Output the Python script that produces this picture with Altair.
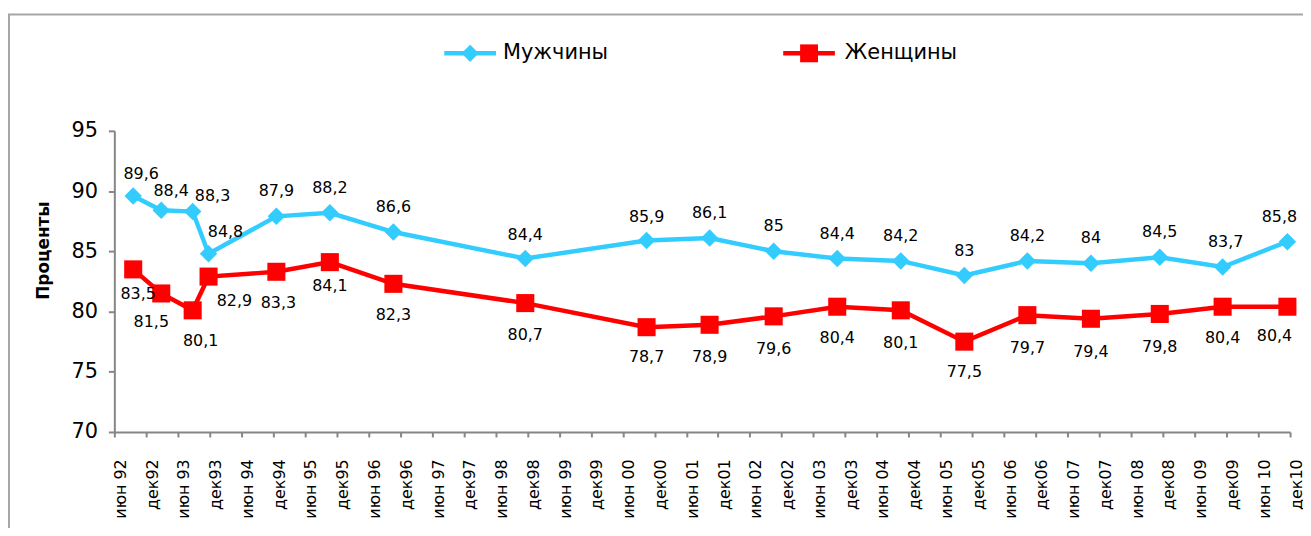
import json
import altair as alt
import pandas as pd

# ---------------- data ----------------
series_names = ["Мужчины", "Женщины"]
series_colors = ["#33CCFF", "#FF0000"]

# approximate mid-dates of the survey rounds
survey_dates = [
    "1992-09-18", "1993-02-27", "1993-08-25", "1993-11-25", "1994-12-19",
    "1995-10-22", "1996-10-22", "1998-11-19", "2000-10-16", "2001-10-13",
    "2002-10-16", "2003-10-16", "2004-10-16", "2005-10-16", "2006-10-13",
    "2007-10-13", "2008-11-13", "2009-11-09", "2010-11-16",
]
men = [89.6, 88.4, 88.3, 84.8, 87.9, 88.2, 86.6, 84.4, 85.9, 86.1,
       85, 84.4, 84.2, 83, 84.2, 84, 84.5, 83.7, 85.8]
women = [83.5, 81.5, 80.1, 82.9, 83.3, 84.1, 82.3, 80.7, 78.7, 78.9,
         79.6, 80.4, 80.1, 77.5, 79.7, 79.4, 79.8, 80.4, 80.4]

tick_labels = []
for yy in ["92", "93", "94", "95", "96", "97", "98", "99", "00", "01",
           "02", "03", "04", "05", "06", "07", "08", "09", "10"]:
    tick_labels.append("июн " + yy)
    tick_labels.append("дек" + yy)

# label nudges in pixels (style, not data)
men_label_dx = [8, 10, 20, 17, 0, 0, 0, 0, 0, 0, 0, 0, 0, 0, 0, 0, 0, 3, -8]
men_label_dy = [-22, -19, -16, -22, -25, -25, -25, -24, -24, -25, -25, -25, -25, -25, -25, -25, -25, -25, -25]
women_label_dx = [5, -10, 8, 26, 2, 0, 0, 0, 0, 0, 0, 0, 0, 0, 0, 0, 0, 0, -13]
women_label_dy = [25, 29, 31, 25, 31, 24, 31, 32, 30, 32, 33, 32, 33, 31, 33, 33, 33, 32, 29]

# ---------------- layout ----------------
W, H = 1183, 303
X_MAX = 222
Y_MIN, Y_MAX = 70, 95
px_month = W / X_MAX
px_unit = H / (Y_MAX - Y_MIN)
FONT = "DejaVu Sans"


def month_pos(s):
    y, m, d = map(int, s.split("-"))
    return (y - 1992) * 12 + (m - 6) + (d - 1) / 30.4


rows = []
for i, dt in enumerate(survey_dates):
    mp = month_pos(dt)
    for name, vals, dxs, dys in [
        (series_names[0], men, men_label_dx, men_label_dy),
        (series_names[1], women, women_label_dx, women_label_dy),
    ]:
        v = vals[i]
        rows.append(dict(series=name, month=mp, value=v,
                         label=f"{v:g}".replace(".", ","),
                         lx=mp + dxs[i] / px_month,
                         ly=v - dys[i] / px_unit))
df = pd.DataFrame(rows)

label_js = json.dumps(tick_labels, ensure_ascii=False)

x_scale = alt.Scale(domain=[0, X_MAX], nice=False, zero=False)
y_scale = alt.Scale(domain=[Y_MIN, Y_MAX], nice=False, zero=False)
color_scale = alt.Scale(domain=series_names, range=series_colors)

x_axis = alt.Axis(values=list(range(0, X_MAX + 1, 6)), tickCount=100,
                  labelExpr=f"{label_js}[round(datum.value/6)]",
                  labelAngle=-90, labelFont=FONT, labelFontSize=16, labelColor="#000000",
                  labelOverlap=False, labelPadding=22, labelOffset=6, tickSize=5, tickWidth=2,
                  tickColor="#868686", domainColor="#868686", domainWidth=2, grid=False, title=None)
y_axis = alt.Axis(values=[70, 75, 80, 85, 90, 95], labelFont=FONT, labelFontSize=21,
                  labelColor="#000000", labelPadding=11, tickSize=6, tickWidth=2,
                  tickColor="#868686", domainColor="#868686", domainWidth=2, grid=False,
                  title="Проценты", titleFont=FONT, titleFontSize=17, titleFontWeight="bold",
                  titleColor="#000000", titleX=-62, titleY=120)

base = alt.Chart(df)

x_enc = alt.X("month:Q", scale=x_scale, axis=x_axis)
y_enc = alt.Y("value:Q", scale=y_scale, axis=y_axis)

border = alt.Chart(alt.Data(values=[{"k": 1}])).mark_rect(
    fill="transparent", stroke="#A6A6A6", strokeWidth=2
).encode(x=alt.value(-106), x2=alt.value(W + 60), y=alt.value(-117), y2=alt.value(H + 200))

lines = base.mark_line(strokeWidth=4.5).encode(
    x=x_enc, y=y_enc,
    color=alt.Color("series:N", scale=color_scale, legend=None),
    detail="series:N",
)

men_pts = base.transform_filter(alt.datum.series == series_names[0]).mark_point(
    shape="diamond", filled=True, opacity=1, size=310, color=series_colors[0]
).encode(x="month:Q", y="value:Q")

women_pts = base.transform_filter(alt.datum.series == series_names[1]).mark_point(
    shape="square", filled=True, opacity=1, size=330, color=series_colors[1]
).encode(x="month:Q", y="value:Q")

labels = base.mark_text(font=FONT, fontSize=16, color="#000000", align="center", baseline="middle").encode(
    x="lx:Q", y="ly:Q", text="label:N"
)

# manual legend
LY = -78
leg_data = alt.Data(values=[{"k": 1}])
leg = []
for name, col, shape, size, x0, tx in [
    (series_names[0], series_colors[0], "diamond", 300, 332, 391),
    (series_names[1], series_colors[1], "square", 324, 673, 735),
]:
    leg.append(alt.Chart(leg_data).mark_rule(color=col, strokeWidth=4.5).encode(
        x=alt.value(x0), x2=alt.value(x0 + 52), y=alt.value(LY)))
    leg.append(alt.Chart(leg_data).mark_point(shape=shape, filled=True, opacity=1, size=size, color=col).encode(
        x=alt.value(x0 + 26), y=alt.value(LY)))
    leg.append(alt.Chart(leg_data).mark_text(font=FONT, fontSize=21, align="left", baseline="middle",
                                             color="#000000").encode(
        x=alt.value(tx), y=alt.value(LY), text=alt.value(name)))

chart = alt.layer(border, lines, men_pts, women_pts, labels, *leg).properties(
    width=W, height=H,
    autosize=alt.AutoSizeParams(type="none"),
    padding={"left": 107, "top": 122, "right": 13, "bottom": 95},
).configure_view(stroke=None)

chart.save("out.html", embed_options={"renderer": "svg", "actions": False})
